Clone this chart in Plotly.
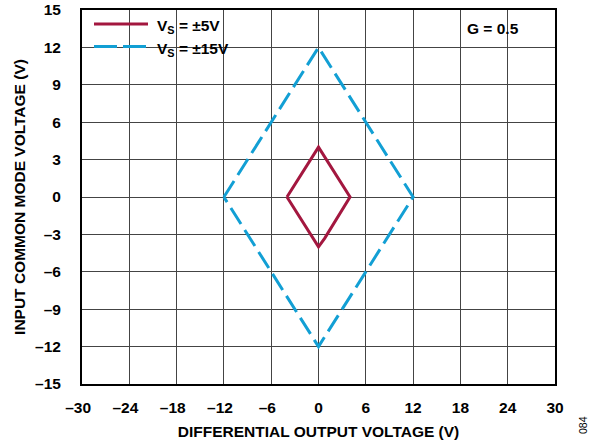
import plotly.graph_objects as go

# Data
vs5_x = [-4.0, 0.0, 4.0, 0.8, 0.0, -4.0]
vs5_y = [0.0, 4.0, 0.0, -3.3, -4.0, 0.0]
vs15_x = [-12.0, 0.0, 12.0, 0.0, -12.0]
vs15_y = [0.0, 12.0, 0.0, -12.0, 0.0]

x_ticks = [-30, -24, -18, -12, -6, 0, 6, 12, 18, 24, 30]
y_ticks = [-15, -12, -9, -6, -3, 0, 3, 6, 9, 12, 15]
# negative labels: minus hangs left of the digits (digits centred on gridline)
x_ticktext = [("\u2013" + str(-v) + "\u2002") if v < 0 else str(v) for v in x_ticks]
y_ticktext = [("\u2013" + str(-v)) if v < 0 else str(v) for v in y_ticks]

RED = "#a3173f"
BLUE = "#129fd4"
FONT = "Liberation Sans, Arial, sans-serif"
FS = 15.5

fig = go.Figure()
fig.add_trace(go.Scatter(x=vs15_x, y=vs15_y, mode="lines", name="V<sub>S</sub> = ±15V",
                         line=dict(color=BLUE, width=3, dash="19px,7px"), showlegend=False))
fig.add_trace(go.Scatter(x=vs5_x, y=vs5_y, mode="lines", name="V<sub>S</sub> = ±5V",
                         line=dict(color=RED, width=3), showlegend=False))

W, H = 598, 446
L, R, T, B = 82, 43, 10, 62
pw, ph = W - L - R, H - T - B

def px(x):
    return (x - L) / pw

def py(y):
    return 1 - (y - T) / ph

shapes = [
    dict(type="rect", xref="paper", yref="paper", x0=px(85), x1=px(237), y0=py(65), y1=py(16),
         fillcolor="white", line=dict(width=0), layer="between"),
    dict(type="rect", xref="paper", yref="paper", x0=px(462), x1=px(553), y0=py(42), y1=py(16),
         fillcolor="white", line=dict(width=0), layer="between"),
    dict(type="line", xref="paper", yref="paper", x0=px(94), x1=px(148), y0=py(24), y1=py(24),
         line=dict(color=RED, width=3), layer="above"),
    dict(type="line", xref="paper", yref="paper", x0=px(94), x1=px(147), y0=py(46.5), y1=py(46.5),
         line=dict(color=BLUE, width=3, dash="23px,6px"), layer="above"),
]

tfont = dict(family=FONT, size=FS, color="black", weight="bold")
annotations = [
    dict(xref="paper", yref="paper", x=px(155), y=py(27), xanchor="left", yanchor="middle",
         text="V<sub>S</sub> = ±5V", showarrow=False, font=tfont),
    dict(xref="paper", yref="paper", x=px(155), y=py(49.5), xanchor="left", yanchor="middle",
         text="V<sub>S</sub> = ±15V", showarrow=False, font=tfont),
    dict(xref="paper", yref="paper", x=px(465), y=py(29), xanchor="left", yanchor="middle",
         text="G = 0.5", showarrow=False, font=tfont),
    dict(xref="paper", yref="paper", x=px(583), y=py(425), xanchor="center", yanchor="middle",
         text="084", textangle=-90, showarrow=False,
         font=dict(family=FONT, size=10.5, color="black")),
]

axis_common = dict(
    showgrid=True, gridcolor="#444444", gridwidth=1.2,
    showline=True, linecolor="black", linewidth=2, mirror=True,
    zeroline=False, ticks="", ticklen=0, automargin=False,
    ticklabeloverflow="allow",
    tickfont=tfont,
)

fig.update_layout(
    width=W, height=H,
    margin=dict(l=L, r=R, t=T, b=B, pad=0),
    paper_bgcolor="white", plot_bgcolor="white",
    xaxis=dict(range=[-30, 30], tickvals=x_ticks, ticktext=x_ticktext,
               ticklabelstandoff=8,
               title=dict(text="DIFFERENTIAL OUTPUT VOLTAGE (V)", standoff=12, font=tfont),
               **axis_common),
    yaxis=dict(range=[-15, 15], tickvals=y_ticks, ticktext=y_ticktext,
               ticklabelstandoff=16,
               title=dict(text="INPUT COMMON MODE VOLTAGE (V)", standoff=6, font=tfont),
               **axis_common),
    shapes=shapes,
    annotations=annotations,
    showlegend=False,
)

fig.write_html("out.html", config={"displayModeBar": False},
               post_script="document.body.style.margin='0px';")
